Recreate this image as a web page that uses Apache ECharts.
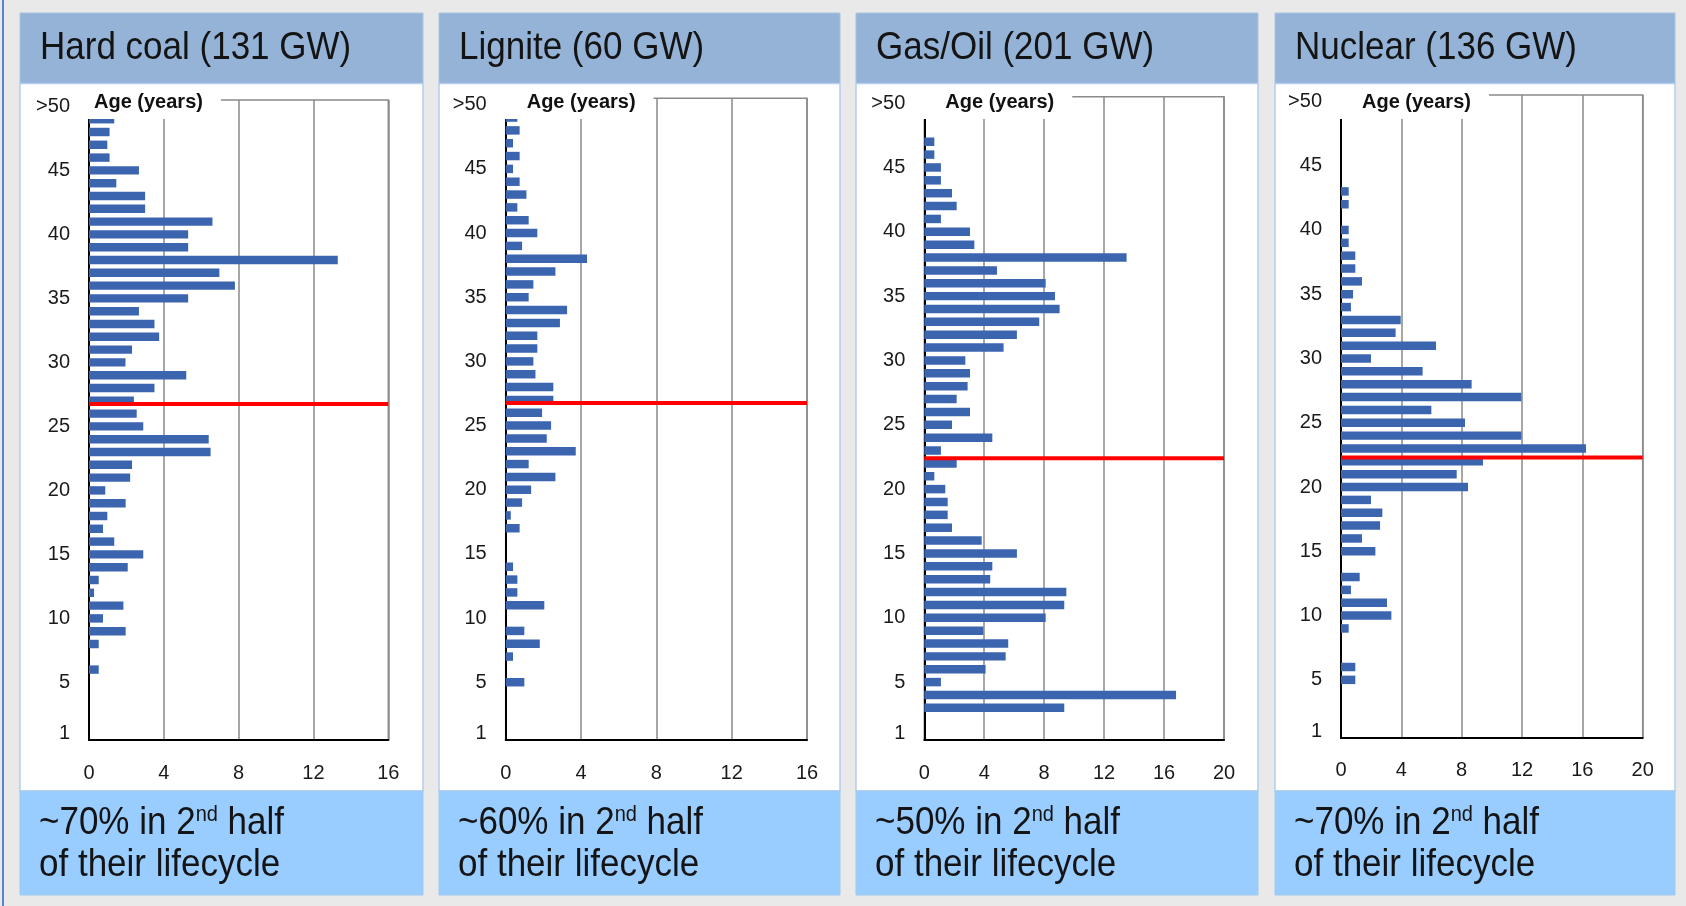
<!DOCTYPE html>
<html>
<head>
<meta charset="utf-8">
<script src="https://cdn.jsdelivr.net/npm/echarts@6/dist/echarts.min.js"></script>
<style>
html,body{margin:0;padding:0;background:#e9e9e9;}
#chart{width:1686px;height:906px;}
</style>
</head>
<body>
<div id="chart"></div>
<script>
// ---------------- DATA ----------------
const ageCategories = ['1','2','3','4','5','6','7','8','9','10','11','12','13','14','15','16','17','18','19','20',
  '21','22','23','24','25','26','27','28','29','30','31','32','33','34','35','36','37','38','39','40',
  '41','42','43','44','45','46','47','48','49','>50'];

// capacity (GW) by age, from age 1 up to >50
const hardCoal = [0,0,0,0,0,0.52,0,0.52,1.96,0.75, 1.84,0.27,0.52,2.07,2.9,1.35,0.75,0.98,1.96,0.87,
  2.2,2.3,6.5,6.4,2.9,2.55,2.4,3.5,5.2,1.95, 2.3,3.75,3.5,2.67,5.3,7.8,6.97,13.3,5.3,5.3,
  6.6,3.0,3.0,1.46,2.67,1.1,0.98,1.1,1.35,0];
const lignite = [0,0,0,0,0.99,0,0.39,1.81,0.99,0, 2.05,0.62,0.62,0.39,0,0,0.74,0.27,0.87,1.35,
  2.64,1.22,3.72,2.18,2.41,1.93,2.53,2.53,1.58,1.47, 1.68,1.68,2.88,3.26,1.22,1.47,2.64,4.32,0.87,1.68,
  1.22,0.62,1.1,0.74,0.39,0.74,0.39,0.74,0.62,0];
const gasOil = [0,0,9.34,16.8,1.11,4.09,5.43,5.6,3.94,8.1, 9.34,9.48,4.4,4.54,6.18,3.83,1.85,1.56,1.56,1.4,
  0.67,2.16,1.11,4.54,1.85,3.05,2.16,2.89,3.05,2.74, 5.29,6.18,7.67,9.03,8.72,8.1,4.85,13.5,3.34,3.05,
  1.11,2.16,1.85,1.11,1.11,0.67,0.67,0,0,0];
const nuclear = [0,0,0,0,0.95,0.95,0,0,0.51,3.34, 3.05,0.66,1.24,0,2.28,1.39,2.59,2.74,1.99,8.42,
  7.67,9.41,16.24,11.96,8.22,5.99,11.96,8.66,5.41,1.99, 6.3,3.62,3.96,0.66,0.8,1.39,0.95,0.95,0.51,0.51,
  0,0.51,0.51,0,0,0,0,0,0,0];

const panelTitles = ['Hard coal (131 GW)', 'Lignite (60 GW)', 'Gas/Oil (201 GW)', 'Nuclear (136 GW)'];
const shareSecondHalf = ['~70%', '~60%', '~50%', '~70%'];
const halfLifeAge = [26.75, 26.75, 22.4, 22.3];   // red line: half of lifecycle (years)
const xAxisMax = [16, 16, 20, 20];
const xAxisStep = 4;
const ageAxisTitle = 'Age (years)';

// ---------------- LAYOUT / STYLE ----------------
const FONT = "'Liberation Sans', Arial, sans-serif";
const panelX = [20, 439, 856, 1275];
const panelW = [403, 401, 402, 400];
const plotLeft = [89, 505.7, 924.3, 1341];
const plotWidth = [299.3, 301.3, 299.7, 301.7];
const plotTop = [100, 98.3, 96.7, 95];
const plotBottom = [740, 740, 740, 737.7];
const ageLabelDx = [5, 21, 21, 21];
const ageBoxPadLeft = 24;
const headerTop = 13, headerBottom = 83.5, footerTop = 791, footerBottom = 895;

const datasets = [hardCoal, lignite, gasOil, nuclear];
const grids = [], xAxes = [], yAxes = [], series = [], graphics = [];

graphics.push({type:'rect', z:-10, silent:true, shape:{x:2, y:0, width:2, height:906}, style:{fill:'#5585cc'}});

for (let i = 0; i < 4; i++) {
  grids.push({
    left: plotLeft[i], top: plotTop[i], width: plotWidth[i], height: plotBottom[i] - plotTop[i],
    show: true, borderColor: '#8a8a8a', borderWidth: 1.5, backgroundColor: 'transparent',
    containLabel: false, outerBoundsMode: 'none'
  });
  xAxes.push({
    type: 'value', gridIndex: i, min: 0, max: xAxisMax[i], interval: xAxisStep,
    axisLine: {show: true, onZero: false, lineStyle: {color: '#000', width: 2}},
    axisTick: {show: false},
    axisLabel: {fontSize: 20, color: '#1a1a1a', margin: 23, fontFamily: FONT},
    splitLine: {show: true, lineStyle: {color: '#8a8a8a', width: 1.5}}
  });
  yAxes.push({
    type: 'category', gridIndex: i, data: ageCategories, boundaryGap: true,
    axisLine: {show: true, onZero: false, lineStyle: {color: '#000', width: 2}},
    axisTick: {show: false},
    axisLabel: {
      interval: function (idx) { return idx === 0 || (idx + 1) % 5 === 0; },
      fontSize: 20, color: '#1a1a1a', margin: 19, fontFamily: FONT
    },
    splitLine: {show: false}
  });
  series.push({
    type: 'bar', xAxisIndex: i, yAxisIndex: i, data: datasets[i],
    barWidth: '66%', itemStyle: {color: '#3c65b0'}, z: 2, silent: true
  });

  // panel backgrounds
  graphics.push({type:'rect', z:-10, silent:true,
    shape:{x:panelX[i], y:headerTop, width:panelW[i], height:headerBottom-headerTop},
    style:{fill:'#95b3d7', stroke:'#a9c3e2', lineWidth:1}});
  graphics.push({type:'rect', z:-10, silent:true,
    shape:{x:panelX[i], y:headerBottom, width:panelW[i], height:footerTop-headerBottom},
    style:{fill:'#ffffff', stroke:'#b2cdee', lineWidth:1.5}});
  graphics.push({type:'rect', z:-10, silent:true,
    shape:{x:panelX[i], y:footerTop, width:panelW[i], height:footerBottom-footerTop},
    style:{fill:'#99ccff', stroke:'#a3c9ee', lineWidth:1}});

  // header title
  graphics.push({type:'text', z:20, silent:true, x: panelX[i] + 20, y: 48.5, scaleY: 1.1,
    style:{text: panelTitles[i], fontSize: 35, fontFamily: FONT, fill:'#141414',
      align:'left', verticalAlign:'middle'}});
  // footer
  graphics.push({type:'text', z:20, silent:true, x: panelX[i] + 19, y: 823, scaleY: 1.1,
    style:{text: shareSecondHalf[i] + ' in 2{sup|nd} half', fontSize: 35, fontFamily: FONT, fill:'#141414',
      align:'left', verticalAlign:'middle',
      rich:{sup:{fontSize: 20, fontFamily: FONT, fill:'#141414', verticalAlign:'top'}}}});
  graphics.push({type:'text', z:20, silent:true, x: panelX[i] + 19, y: 865, scaleY: 1.1,
    style:{text: 'of their lifecycle', fontSize: 35, fontFamily: FONT, fill:'#141414',
      align:'left', verticalAlign:'middle'}});
  // axis title box (white background hides the top of the axis frame)
  graphics.push({type:'text', z:50, silent:true, x: plotLeft[i] + ageLabelDx[i] - ageBoxPadLeft, y: 102.5,
    style:{text: ageAxisTitle, fontSize: 20, fontWeight:'bold', fontFamily: FONT, fill:'#111',
      align:'left', verticalAlign:'middle', backgroundColor:'#ffffff', padding:[7, 18, 6, ageBoxPadLeft]}});
}
// hidden continuous age axes for the half-lifecycle line
for (let i = 0; i < 4; i++) {
  yAxes.push({type: 'value', gridIndex: i, min: 0.5, max: 50.5, show: false});
  series.push({
    type: 'line', xAxisIndex: i, yAxisIndex: 4 + i,
    data: [[0, halfLifeAge[i]], [xAxisMax[i], halfLifeAge[i]]],
    symbol: 'none', lineStyle: {color: '#ff0000', width: 4}, z: 5, silent: true
  });
}

const chart = echarts.init(document.getElementById('chart'), null, {renderer: 'canvas', width: 1686, height: 906});
chart.setOption({
  animation: false,
  backgroundColor: '#e9e9e9',
  textStyle: {fontFamily: FONT},
  grid: grids, xAxis: xAxes, yAxis: yAxes, series: series, graphic: graphics
});
</script>
</body>
</html>
